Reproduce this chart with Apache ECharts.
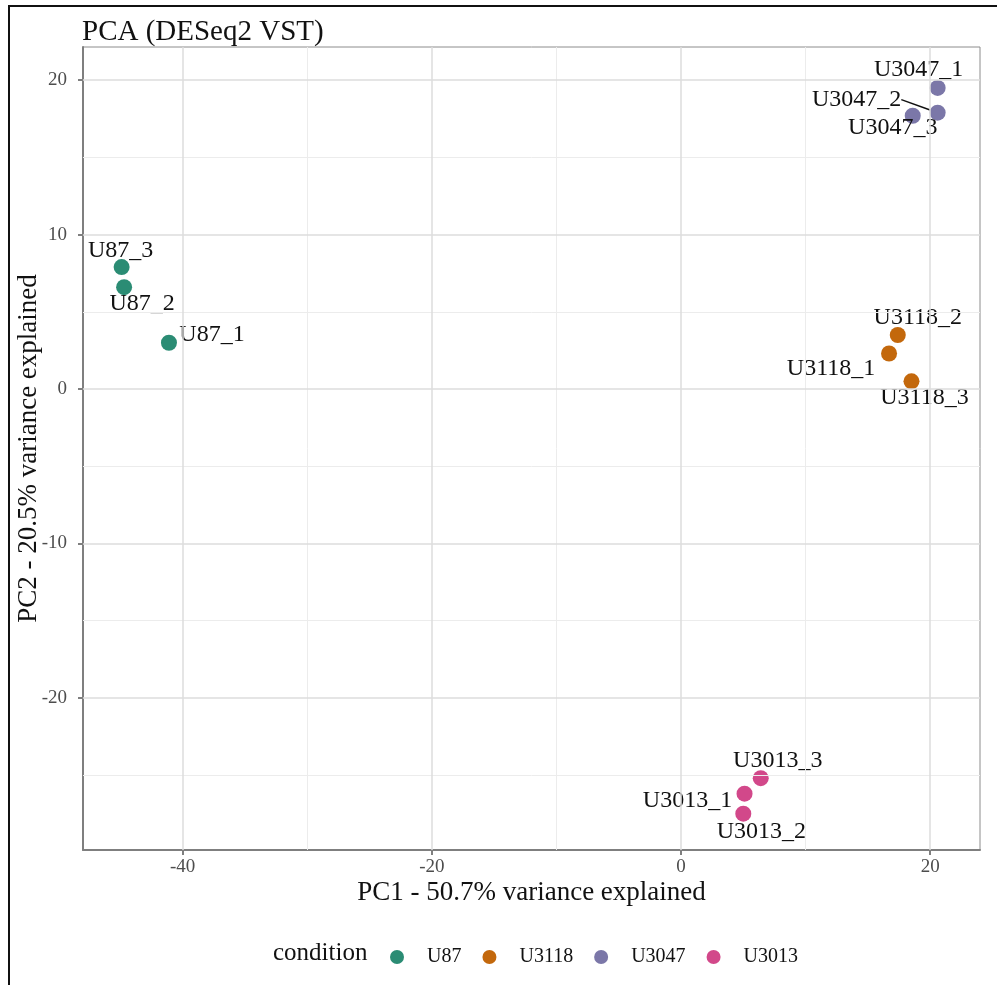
<!DOCTYPE html>
<html>
<head>
<meta charset="utf-8">
<script src="https://cdn.jsdelivr.net/npm/echarts@6/dist/echarts.min.js"></script>
<style>
html,body{margin:0;padding:0;background:#fff;}
#chart{position:absolute;left:0;top:0;width:997px;height:985px;}
#frame{position:absolute;left:8px;top:5px;width:989px;height:980px;border-left:2px solid #111;border-top:2px solid #111;box-sizing:border-box;pointer-events:none;}
</style>
</head>
<body>
<div id="chart"></div>
<div id="frame"></div>
<script>
// 数据
var samples = ['U87_1','U87_2','U87_3','U3118_1','U3118_2','U3118_3','U3047_1','U3047_2','U3047_3','U3013_1','U3013_2','U3013_3'];
var sampleCondition = ['U87','U87','U87','U3118','U3118','U3118','U3047','U3047','U3047','U3013','U3013','U3013'];
var pc1 = [-41.1, -44.7, -44.9, 16.7, 17.4, 18.5, 20.6, 20.6, 18.6, 5.1, 5.0, 6.4];
var pc2 = [3.0, 6.6, 7.9, 2.3, 3.5, 0.5, 19.5, 17.9, 17.7, -26.2, -27.5, -25.2];
var conditions = ['U87','U3118','U3047','U3013'];

var xTicks = [-40, -20, 0, 20];
var xMinor = [-30, -10, 10];
var yTicks = [-20, -10, 0, 10, 20];
var yMinor = [-25, -15, -5, 5, 15];

// 样式
var colors = {U87: '#2b8c74', U3118: '#c3680c', U3047: '#7b77a8', U3013: '#d2488a'};
// label 偏移 (px), 跟 samples 对应 (ggrepel 的位置)
var labelOffsets = [[43,-8],[18,17],[-1,-16],[-58,15],[20,-17],[13,16],[-19,-18],[-81,-13],[-20,12],[-57,7],[18,18],[17,-17]];
var withSegment = ['U3047_2'];

var serif = 'Liberation Serif, Times New Roman, serif';
var axisGray = '#7f7f7f';

function gridLine(key, values, major) {
    return values.map(function (v) {
        var d = {};
        d[key] = v;
        d.lineStyle = {color: major ? '#dcdcdc' : '#ececec', width: major ? 1.5 : 1, type: 'solid'};
        return d;
    });
}

var series = [{
    type: 'line',
    data: [],
    z: 1,
    silent: true,
    markLine: {
        silent: true,
        symbol: 'none',
        label: {show: false},
        animation: false,
        data: [].concat(
            gridLine('xAxis', xMinor, false),
            gridLine('yAxis', yMinor, false),
            gridLine('xAxis', xTicks, true),
            gridLine('yAxis', yTicks, true)
        )
    }
}];

conditions.forEach(function (cond) {
    var idx = [];
    samples.forEach(function (s, i) { if (sampleCondition[i] === cond) idx.push(i); });
    series.push({
        name: cond,
        type: 'scatter',
        z: 3,
        symbolSize: 16,
        itemStyle: {color: colors[cond], opacity: 1},
        label: {
            show: true,
            position: 'inside',
            formatter: '{b}',
            fontFamily: serif,
            fontSize: 24,
            color: '#111'
        },
        labelLine: {show: false, lineStyle: {color: '#111', width: 1.5}},
        labelLayout: function (params) {
            var o = labelOffsets[idx[params.dataIndex]];
            return {dx: o[0], dy: o[1]};
        },
        data: idx.map(function (i) {
            var item = {name: samples[i], value: [pc1[i], pc2[i]]};
            if (withSegment.indexOf(samples[i]) >= 0) {
                item.labelLine = {show: true, lineStyle: {color: '#111', width: 1.5}};
            }
            return item;
        })
    });
});

var chart = echarts.init(document.getElementById('chart'));
var option = {
    animation: false,
    backgroundColor: '#fff',
    title: [{
        text: 'PCA (DESeq2 VST)',
        left: 77,
        top: 13,
        textStyle: {fontFamily: serif, fontSize: 29, fontWeight: 'normal', color: '#111'}
    }, {
        text: 'condition',
        left: 268,
        top: 936,
        textStyle: {fontFamily: serif, fontSize: 25, fontWeight: 'normal', color: '#111'}
    }],
    legend: {
        data: conditions,
        icon: 'circle',
        left: 385,
        top: 942,
        itemWidth: 14,
        itemHeight: 14,
        itemGap: 21,
        textStyle: {fontFamily: serif, fontSize: 20, color: '#111', padding: [0, 0, 0, 18]}
    },
    grid: {
        left: 83, right: 17, top: 47, bottom: 135,
        outerBoundsMode: 'none',
        containLabel: false,
        show: true, borderColor: '#8c8c8c', borderWidth: 1
    },
    xAxis: {
        type: 'value',
        min: -48, max: 24,
        name: 'PC1 - 50.7% variance explained',
        nameLocation: 'middle',
        nameGap: 29,
        nameMoveOverlap: false,
        nameTextStyle: {fontFamily: serif, fontSize: 27, color: '#111'},
        axisLine: {show: true, onZero: false, lineStyle: {color: axisGray, width: 2}},
        axisTick: {show: true, length: 5, customValues: xTicks, lineStyle: {color: axisGray, width: 2}},
        axisLabel: {customValues: xTicks, fontFamily: serif, fontSize: 19, color: '#4d4d4d', margin: 8},
        splitLine: {show: false}
    },
    yAxis: {
        type: 'value',
        min: -29.85, max: 22.15,
        name: 'PC2 - 20.5% variance explained',
        nameLocation: 'middle',
        nameGap: 41,
        nameMoveOverlap: false,
        nameTextStyle: {fontFamily: serif, fontSize: 27, color: '#111'},
        axisLine: {show: true, onZero: false, lineStyle: {color: axisGray, width: 2}},
        axisTick: {show: true, length: 5, customValues: yTicks, lineStyle: {color: axisGray, width: 2}},
        axisLabel: {customValues: yTicks, fontFamily: serif, fontSize: 19, color: '#4d4d4d', margin: 16},
        splitLine: {show: false}
    },
    series: series
};
chart.setOption(option);
</script>
</body>
</html>
